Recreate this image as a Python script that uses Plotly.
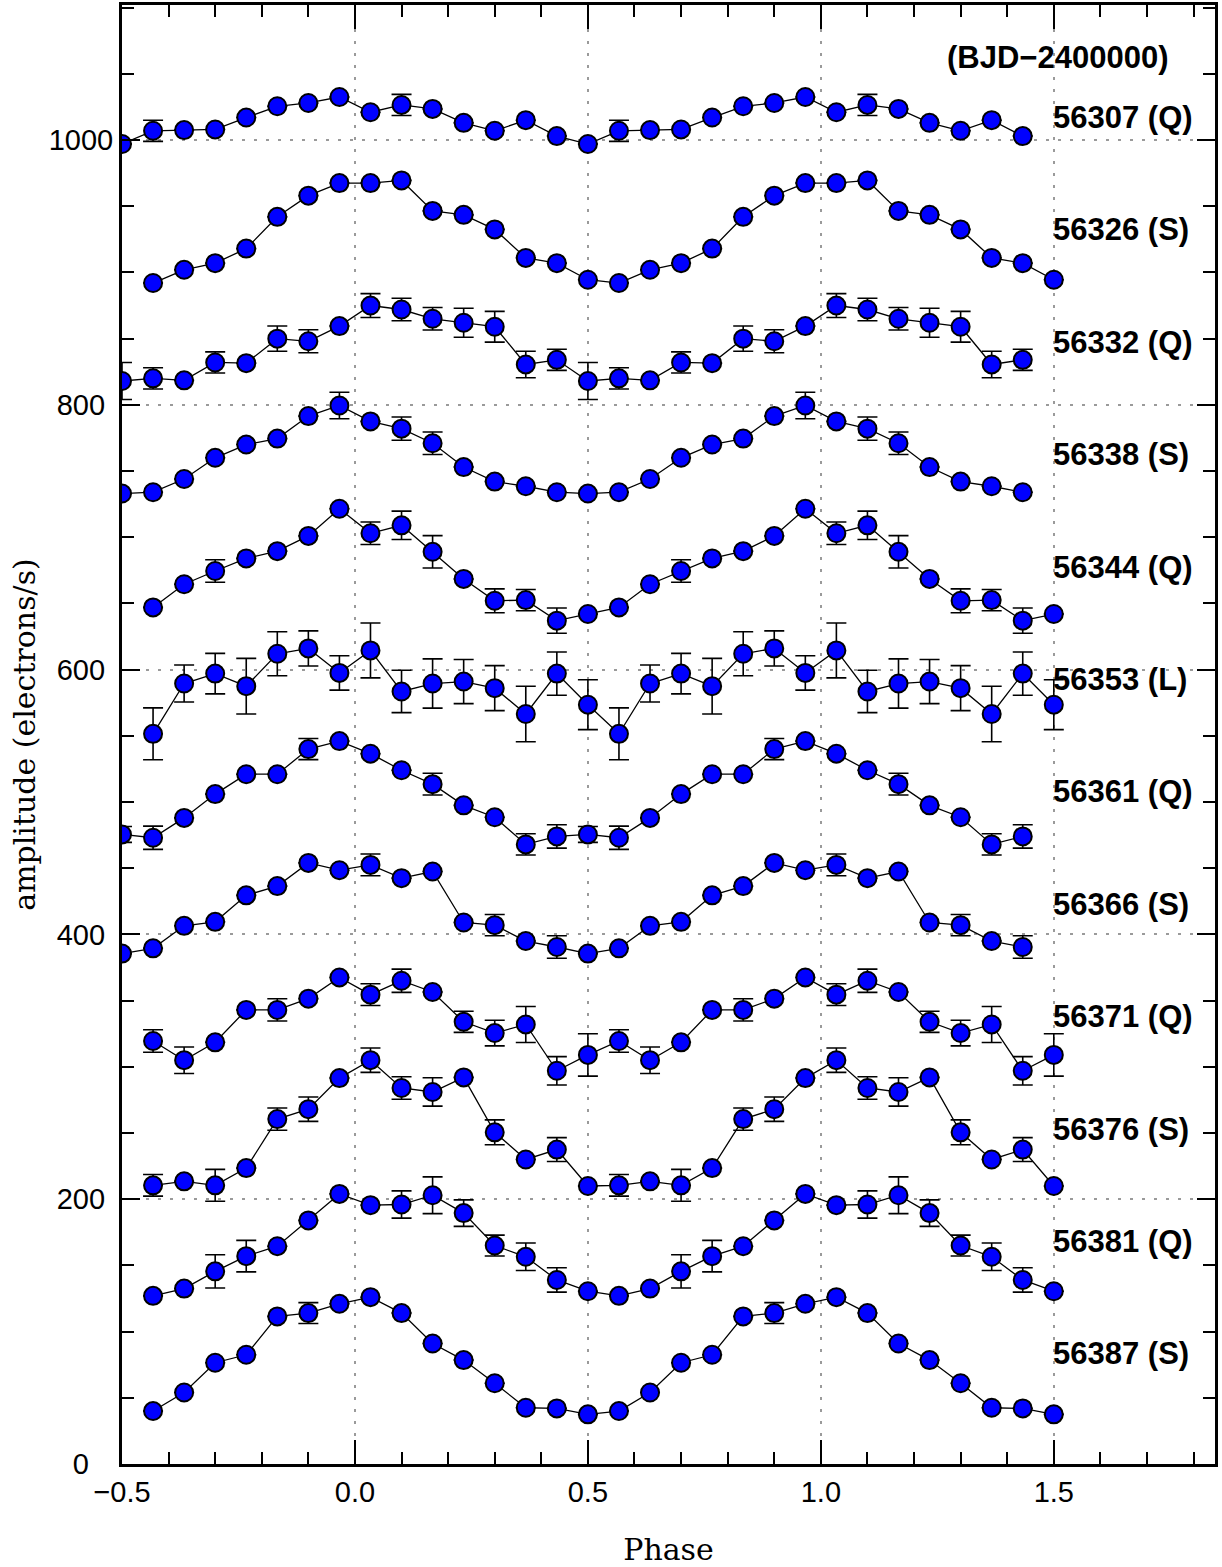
import plotly.graph_objects as go

# Phase-folded light curves, 15 phase bins per cycle, shown over two cycles.
N_BINS = 15
PHASE_BINS = [(k - 7.5) / N_BINS for k in range(N_BINS)]  # -0.5 ... 0.433

LABELS = ["56307 (Q)", "56326 (S)", "56332 (Q)", "56338 (S)", "56344 (Q)", "56353 (L)",
          "56361 (Q)", "56366 (S)", "56371 (Q)", "56376 (S)", "56381 (Q)", "56387 (S)"]

# first bin plotted for each epoch (0 -> starts at phase -0.5, 1 -> starts at -0.433)
START_BIN = [0, 1, 0, 0, 1, 1, 0, 0, 1, 1, 1, 1]

AMP_56307 = [997, 1007, 1007.5, 1008, 1017, 1025.5, 1028, 1032.5, 1021, 1026.5, 1023.5, 1013, 1007, 1015, 1003]
ERR_56307 = [0, 8, 0, 0, 0, 0, 0, 0, 0, 8, 0, 0, 0, 0, 0]

AMP_56326 = [894.5, 892, 902, 907, 918, 942, 958, 967.5, 967.5, 969.5, 946.5, 943.5, 932.5, 911, 907]
ERR_56326 = [0, 0, 0, 0, 0, 0, 0, 0, 0, 0, 0, 0, 0, 0, 0]

AMP_56332 = [818, 820, 818.5, 832, 831.5, 850, 848, 859.5, 875, 872, 865, 862, 859, 830.5, 834]
ERR_56332 = [14, 8, 0, 8, 0, 9.5, 8.7, 0, 9, 8.5, 8.5, 11, 11.6, 10, 8]

AMP_56338 = [733, 734, 744, 760, 770, 774.5, 791.5, 799.5, 787.5, 782, 771, 753, 742, 738.5, 734]
ERR_56338 = [0, 0, 0, 0, 0, 0, 0, 10, 0, 8.8, 8.5, 0, 0, 0, 0]

AMP_56344 = [642, 647, 664.5, 674.5, 684, 689.5, 701, 721.5, 703, 709, 689, 668.5, 652, 652.5, 637]
ERR_56344 = [0, 0, 0, 8.5, 0, 0, 0, 0, 8.5, 10.7, 12.2, 0, 9, 8, 9.5]

AMP_56353 = [573.5, 551.5, 589.5, 597, 587.5, 612, 616, 597.5, 614.5, 583.5, 589.5, 591, 586, 566.5, 597]
ERR_56353 = [18.8, 19.6, 14, 15.3, 21, 16.6, 13.3, 13, 20.7, 16, 18.6, 16.7, 17, 21, 16.3]

AMP_56361 = [475.5, 473, 488, 506, 521, 521, 540, 546, 536.5, 524, 513.5, 497.5, 488.5, 468, 474]
ERR_56361 = [6, 8.8, 0, 0, 0, 0, 8, 0, 0, 0, 8.2, 0, 0, 8, 8.8]

AMP_56366 = [385.5, 389.5, 406.5, 409.5, 429.5, 436.5, 454, 448.5, 452.5, 442.5, 447.5, 409, 407, 395, 390.5]
ERR_56366 = [0, 0, 0, 0, 0, 0, 0, 0, 8.2, 0, 0, 0, 8, 0, 8.5]

AMP_56371 = [309, 319.5, 305, 318.5, 343, 343, 351.5, 367.5, 354.5, 365, 356.5, 334, 325.5, 332, 297]
ERR_56371 = [16, 8.5, 10, 0, 0, 8.4, 0, 0, 8.2, 8.8, 0, 8, 9.7, 13.6, 10.7]

AMP_56376 = [210, 210.5, 213.5, 210.5, 223.5, 260.5, 268, 291.5, 305, 284, 281, 292, 250.5, 230, 237.5]
ERR_56376 = [0, 8.2, 0, 12, 0, 8.4, 9.2, 0, 9.2, 8.5, 10.7, 0, 9.4, 0, 9]

AMP_56381 = [130.5, 127, 132.5, 145.5, 157, 164.5, 184, 204, 195.5, 196, 203, 189.5, 165, 156.5, 139]
ERR_56381 = [0, 0, 0, 12.6, 11.9, 0, 0, 0, 0, 10.3, 13.9, 10, 7.9, 10.4, 9.2]

AMP_56387 = [37.5, 40, 54, 76.5, 82.5, 111.5, 114, 121, 126, 114, 91, 78.5, 61, 42.5, 42]
ERR_56387 = [0, 0, 0, 0, 0, 0, 7.9, 0, 0, 0, 0, 0, 0, 0, 0]

AMPS = [AMP_56307, AMP_56326, AMP_56332, AMP_56338, AMP_56344, AMP_56353,
        AMP_56361, AMP_56366, AMP_56371, AMP_56376, AMP_56381, AMP_56387]
ERRS = [ERR_56307, ERR_56326, ERR_56332, ERR_56338, ERR_56344, ERR_56353,
        ERR_56361, ERR_56366, ERR_56371, ERR_56376, ERR_56381, ERR_56387]

HEADER = "(BJD\u22122400000)"

Y_TICKS = [0, 200, 400, 600, 800, 1000]

SANS = "Liberation Sans, Arial, Helvetica, sans-serif"
SERIF = "DejaVu Serif, serif"


def centred_label(v, width=4):
    # right-aligned tick text padded so that labels of any length share a centre
    s = str(v)
    pad = width - len(s)
    return s + "\u2007" * (pad // 2) + ("\u2008" if pad % 2 else "")


fig = go.Figure()

for amp, err, start in zip(AMPS, ERRS, START_BIN):
    idx = range(start, start + 2 * N_BINS)
    xs = [PHASE_BINS[j % N_BINS] + j // N_BINS for j in idx]
    ys = [amp[j % N_BINS] for j in idx]
    es = [err[j % N_BINS] for j in idx]
    fig.add_trace(go.Scatter(
        x=xs, y=ys, mode="lines+markers",
        line=dict(color="black", width=1.3),
        marker=dict(size=18, color="#0000ff", line=dict(color="black", width=2)),
        error_y=dict(type="data", array=es, visible=True, color="black",
                     thickness=1.6, width=10),
        showlegend=False, hoverinfo="x+y",
    ))

# epoch labels to the right of the curves
LABEL_TOP = 1017.0
LABEL_STEP = 84.9
for i, lab in enumerate(LABELS):
    fig.add_annotation(x=1.494, y=LABEL_TOP - LABEL_STEP * i, xref="x", yref="y",
                       text="<b>%s</b>" % lab, showarrow=False,
                       xanchor="left", yanchor="middle",
                       font=dict(family=SANS, size=31, color="black"))
fig.add_annotation(x=1.507, y=1062, xref="x", yref="y", text="<b>%s</b>" % HEADER,
                   showarrow=False, xanchor="center", yanchor="middle",
                   font=dict(family=SANS, size=31, color="black"))

axis_common = dict(
    showline=True, linewidth=3, linecolor="black", mirror="allticks",
    ticks="inside", tickwidth=1.5, tickcolor="black",
    showgrid=True, gridcolor="#9a9a9a", gridwidth=1.5, griddash="3px,9px",
    zeroline=False,
    tickfont=dict(family=SANS, size=29, color="black"),
)

fig.update_xaxes(
    range=[-0.5, 1.846], tick0=0, dtick=0.5, tickformat=".1f", ticklen=24,
    minor=dict(dtick=0.1, tick0=0, ticks="inside", ticklen=12, tickwidth=1.5,
               tickcolor="black", showgrid=False),
    title=dict(text="Phase", font=dict(family=SERIF, size=30, color="black"), standoff=34),
    **axis_common,
)
fig.update_yaxes(
    range=[0, 1102], tickmode="array", tickvals=Y_TICKS,
    ticktext=[centred_label(v) for v in Y_TICKS], ticklen=18,
    minor=dict(tickmode="linear", dtick=50, tick0=0, ticks="inside", ticklen=12,
               tickwidth=1.5, tickcolor="black", showgrid=False),
    title=dict(text="amplitude (electrons/s)", font=dict(family=SERIF, size=30, color="black"),
               standoff=5),
    **axis_common,
)

fig.update_layout(
    width=1222, height=1567,
    margin=dict(l=122, r=7, t=2, b=103),
    paper_bgcolor="white", plot_bgcolor="white",
    font=dict(family=SANS, color="black"),
)

fig.write_html("out.html")
